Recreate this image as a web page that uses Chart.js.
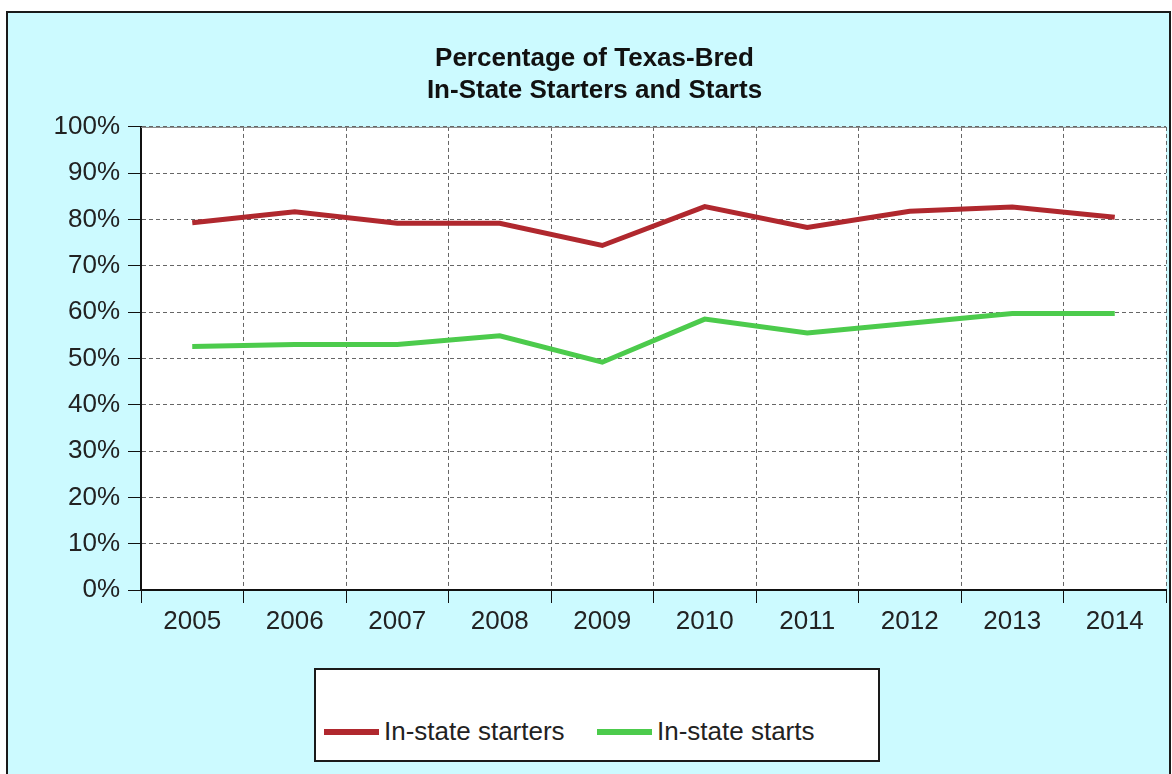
<!DOCTYPE html>
<html>
<head>
<meta charset="utf-8">
<script src="https://cdn.jsdelivr.net/npm/chart.js@4.4.0/dist/chart.umd.min.js"></script>
<style>
    body { margin: 0; background: #fff; font-family: "Liberation Sans", Arial, sans-serif; }
    #wrap { position: relative; width: 1172px; height: 774px; overflow: hidden; }
    #frame { position: absolute; left: 6px; top: 11px; width: 1161px; height: 800px; border: 2px solid #1a1a1a; background: #ccfaff; }
    #chart { position: absolute; left: 0; top: 0; }
    #legend { position: absolute; left: 314px; top: 668px; width: 562px; height: 90px; border: 2px solid #1a1a1a; background: #fff; }
    .item { position: absolute; top: 46px; height: 30px; font-size: 26px; color: #222; white-space: nowrap; line-height: 30px; }
    .item span.mark { position: absolute; left: 0; top: 13px; width: 55px; height: 6px; }
    .item span.txt { position: absolute; left: 60px; top: 0; }
</style>
</head>
<body>
<div id="wrap">
    <div id="frame"></div>
    <canvas id="chart" width="1172" height="774"></canvas>
    <div id="legend"></div>
</div>
<script>
/* Chart data */
const years = ["2005", "2006", "2007", "2008", "2009", "2010", "2011", "2012", "2013", "2014"];
const starters = [79.3, 81.7, 79.2, 79.2, 74.4, 82.8, 78.3, 81.8, 82.7, 80.5];
const starts = [52.6, 53.0, 53.0, 54.9, 49.2, 58.5, 55.5, 57.6, 59.7, 59.7];
const seriesNames = ["In-state starters", "In-state starts"];
const seriesColors = ["#b0282e", "#4ccb4c"];

// white plot area behind the grid, plus the grey top edge
const plotBg = {
    id: "plotBg",
    beforeDraw(chart) {
        const a = chart.chartArea;
        const ctx = chart.ctx;
        ctx.save();
        ctx.fillStyle = "#ffffff";
        ctx.fillRect(a.left, a.top, a.right - a.left, a.bottom - a.top);
        ctx.restore();
    },
    afterDatasetsDraw(chart) {
        const a = chart.chartArea;
        const ctx = chart.ctx;
        ctx.save();
        ctx.strokeStyle = "#888";
        ctx.lineWidth = 1;
        ctx.beginPath();
        ctx.moveTo(a.left, a.top + 0.5);
        ctx.lineTo(a.right, a.top + 0.5);
        ctx.stroke();
        ctx.restore();
    }
};

const ctx = document.getElementById("chart").getContext("2d");
const chart = new Chart(ctx, {
    type: "line",
    data: {
        labels: years,
        datasets: [
            { label: seriesNames[0], data: starters, borderColor: seriesColors[0], backgroundColor: seriesColors[0], borderWidth: 5, pointRadius: 0, tension: 0 },
            { label: seriesNames[1], data: starts, borderColor: seriesColors[1], backgroundColor: seriesColors[1], borderWidth: 5, pointRadius: 0, tension: 0 }
        ]
    },
    options: {
        responsive: false,
        animation: false,
        devicePixelRatio: 1,
        layout: { padding: { left: 23, right: 6, top: 0, bottom: 0 } },
        plugins: {
            legend: { display: false },
            tooltip: { enabled: false },
            title: {
                display: true,
                text: ["Percentage of Texas-Bred", "In-State Starters and Starts"],
                color: "#111",
                font: { family: "Liberation Sans", size: 26, weight: "bold", lineHeight: 1.23 },
                padding: { top: 43, bottom: 20 }
            }
        },
        scales: {
            x: {
                offset: true,
                grid: { offset: true, color: "#666", tickColor: "#111", tickLength: 13, tickBorderDash: [] },
                border: { color: "#111", width: 2, dash: [4, 3] },
                ticks: { color: "#222", padding: 3, font: { family: "Liberation Sans", size: 26 }, maxRotation: 0 },
                afterFit(scale) { scale.height = 184; }
            },
            y: {
                min: 0,
                max: 100,
                grid: { color: "#666", tickColor: "#111", tickLength: 13, tickBorderDash: [] },
                border: { color: "#111", width: 2, dash: [4, 3] },
                ticks: { stepSize: 10, color: "#222", padding: 8, font: { family: "Liberation Sans", size: 26 }, callback: v => v + "%" },
                afterFit(scale) { scale.width = 118; }
            }
        }
    },
    plugins: [plotBg]
});

// Legend box built from the datasets
const legendEl = document.getElementById("legend");
const itemLeft = [8, 281];
chart.data.datasets.forEach((ds, i) => {
    const item = document.createElement("div");
    item.className = "item";
    item.style.left = itemLeft[i] + "px";
    item.innerHTML = '<span class="mark" style="background:' + ds.borderColor + '"></span><span class="txt">' + ds.label + '</span>';
    legendEl.appendChild(item);
});
</script>
</body>
</html>
